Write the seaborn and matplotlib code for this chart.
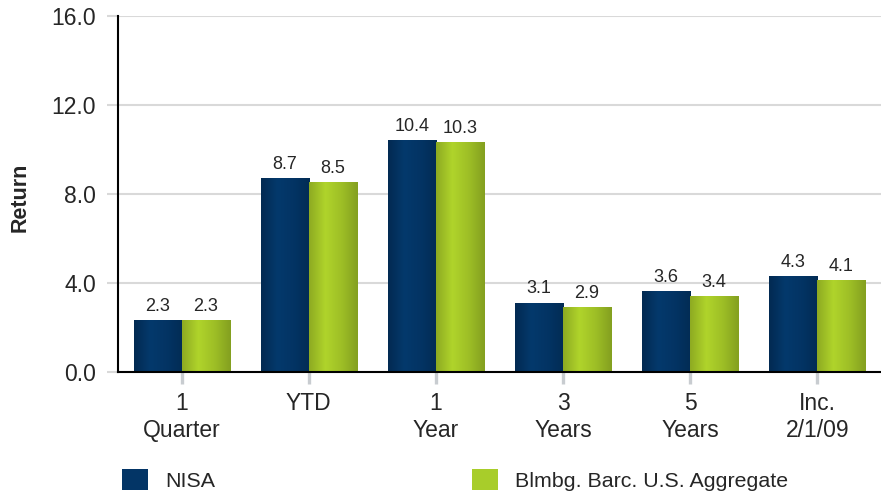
import numpy as np
import pandas as pd
import matplotlib
matplotlib.use("Agg")
import matplotlib.pyplot as plt
from matplotlib.colors import LinearSegmentedColormap
import seaborn as sns

# data
periods = ["1\nQuarter", "YTD", "1\nYear", "3\nYears", "5\nYears", "Inc.\n2/1/09"]
nisa = [2.3, 8.7, 10.4, 3.1, 3.6, 4.3]
bench = [2.3, 8.5, 10.3, 2.9, 3.4, 4.1]
series = ["NISA", "Blmbg. Barc. U.S. Aggregate"]
colors = {"NISA": "#033566", "Blmbg. Barc. U.S. Aggregate": "#a8cd2a"}

df = pd.DataFrame({
    "period": periods * 2,
    "value": nisa + bench,
    "series": [series[0]] * len(periods) + [series[1]] * len(periods),
})

sns.set_theme(style="white")
plt.rcParams['font.family'] = ['Liberation Sans', 'DejaVu Sans']

fig = plt.figure(figsize=(8.81, 4.97), dpi=100)
ax = fig.add_axes([0.134, 0.2515, 0.866, 0.7165])

sns.barplot(data=df, x="period", y="value", hue="series", order=periods,
            hue_order=series, palette=colors, width=0.755, saturation=1,
            edgecolor="none", ax=ax)

# horizontal shading on the bars, like the original
shades = [
    LinearSegmentedColormap.from_list("navy", ["#022a52", "#04396c", "#033464", "#022c55"]),
    LinearSegmentedColormap.from_list("lime", ["#8eab22", "#b0d42b", "#9ebf26", "#84a020"]),
]
grad = np.linspace(0, 1, 64).reshape(1, -1)
for cont, cmap in zip(ax.containers, shades):
    for p in cont.patches:
        x0, y0, w, h = p.get_x(), p.get_y(), p.get_width(), p.get_height()
        ax.imshow(grad, extent=[x0, x0 + w, y0, y0 + h], aspect="auto",
                  cmap=cmap, zorder=p.get_zorder() + 0.1, interpolation="bilinear")

# value labels
for cont in ax.containers:
    ax.bar_label(cont, fmt="%.1f", padding=4, fontsize=13, zorder=5)

ax.set_ylim(0, 16)
ax.set_xlim(-0.5, 5.5)
ax.set_yticks([0, 4, 8, 12, 16])
ax.set_yticklabels([f"{v:.1f}" for v in [0, 4, 8, 12, 16]], fontsize=16.5)
ax.tick_params(axis="x", labelsize=16.5, length=8.6, width=2.4, color="#c8ccd0",
               bottom=True, pad=6)
ax.tick_params(axis="y", length=8, width=1.5, color="#d9d9d9", left=True, pad=8)
ax.grid(axis="y", color="#d9d9d9", linewidth=1.5)
ax.set_axisbelow(True)
ax.set_xlabel("")
ax.set_ylabel("Return", fontsize=15.5, fontweight="bold")
ax.yaxis.set_label_coords(-0.115, 0.49)

for s in ["top", "right"]:
    ax.spines[s].set_visible(False)
for s in ["left", "bottom"]:
    ax.spines[s].set_color("black")
    ax.spines[s].set_linewidth(1.5)
    ax.spines[s].set_zorder(6)

handles, labels = ax.get_legend_handles_labels()
ax.legend_.remove()
fig.legend(handles, labels, loc="center left", bbox_to_anchor=(0.1385, 0.035),
           ncol=2, frameon=False, fontsize=15.4, handlelength=1.21,
           handleheight=1.17, handletextpad=0.8, columnspacing=12.0,
           borderpad=0, borderaxespad=0)

fig.savefig("out.png", dpi=100)
